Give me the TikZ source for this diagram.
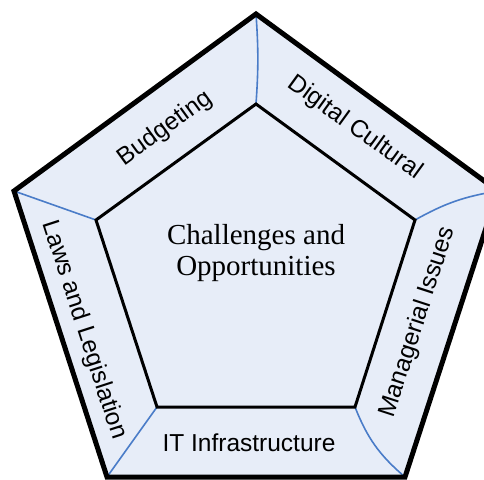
\documentclass[tikz,border=0pt]{standalone}
\usepackage{fontspec}
\setmainfont{Liberation Serif}
\newfontfamily\labelfont{Liberation Sans}
\definecolor{bandfill}{HTML}{E7EDF8}
\definecolor{seamblue}{HTML}{4A7CC8}
\tikzset{
  outerrim/.style={line width=5pt, line join=miter},
  innerrim/.style={line width=3pt, line join=miter},
  seam/.style={seamblue, line width=1.6pt},
  sidelabel/.style={font=\labelfont\fontsize{24.5}{28}\selectfont, inner sep=0pt},
  corelabel/.style={font=\fontsize{29}{31}\selectfont, align=center, inner sep=0pt}
}
\begin{document}
\begin{tikzpicture}[x=1pt, y=-1pt]
  \useasboundingbox (0,0) rectangle (484,479);
  \clip (0,0) rectangle (484,479);
  % outer pentagon corners
  \coordinate (o1) at (256,14);
  \coordinate (o2) at (14,191);
  \coordinate (o3) at (107,477);
  \coordinate (o4) at (405,477);
  \coordinate (o5) at (498,191);
  % inner pentagon corners
  \coordinate (i1) at (256,104);
  \coordinate (i2) at (96,220);
  \coordinate (i3) at (157,407);
  \coordinate (i4) at (355,407);
  \coordinate (i5) at (415,220);
  % band and core fill
  \fill[bandfill] (o1) -- (o2) -- (o3) -- (o4) -- (o5) -- cycle;
  % seams between the bands
  \draw[seam] (o1) to[bend left=4] (i1);
  \draw[seam] (o2) -- (i2);
  \draw[seam] (o3) -- (i3);
  \draw[seam] (i4) to[bend right=14] (o4);
  \draw[seam] (i5) to[bend left=10] (o5);
  % rims
  \draw[innerrim] (i1) -- (i2) -- (i3) -- (i4) -- (i5) -- cycle;
  \draw[outerrim] (o1) -- (o2) -- (o3) -- (o4) -- (o5) -- cycle;
  % labels
  \node[sidelabel, rotate=36] (budget) at (165,129) {Budgeting};
  \node[sidelabel, rotate=-36] (digital) at (355,128) {Digital Cultural};
  \node[sidelabel, rotate=-72] (laws) at (84,330) {Laws and Legislation};
  \node[sidelabel, rotate=72] (manage) at (418,322) {Managerial Issues};
  \node[sidelabel] (infra) at (249,443) {IT Infrastructure};
  \node[corelabel] (core) at (256,253) {Challenges and\\Opportunities};
\end{tikzpicture}
\end{document}
